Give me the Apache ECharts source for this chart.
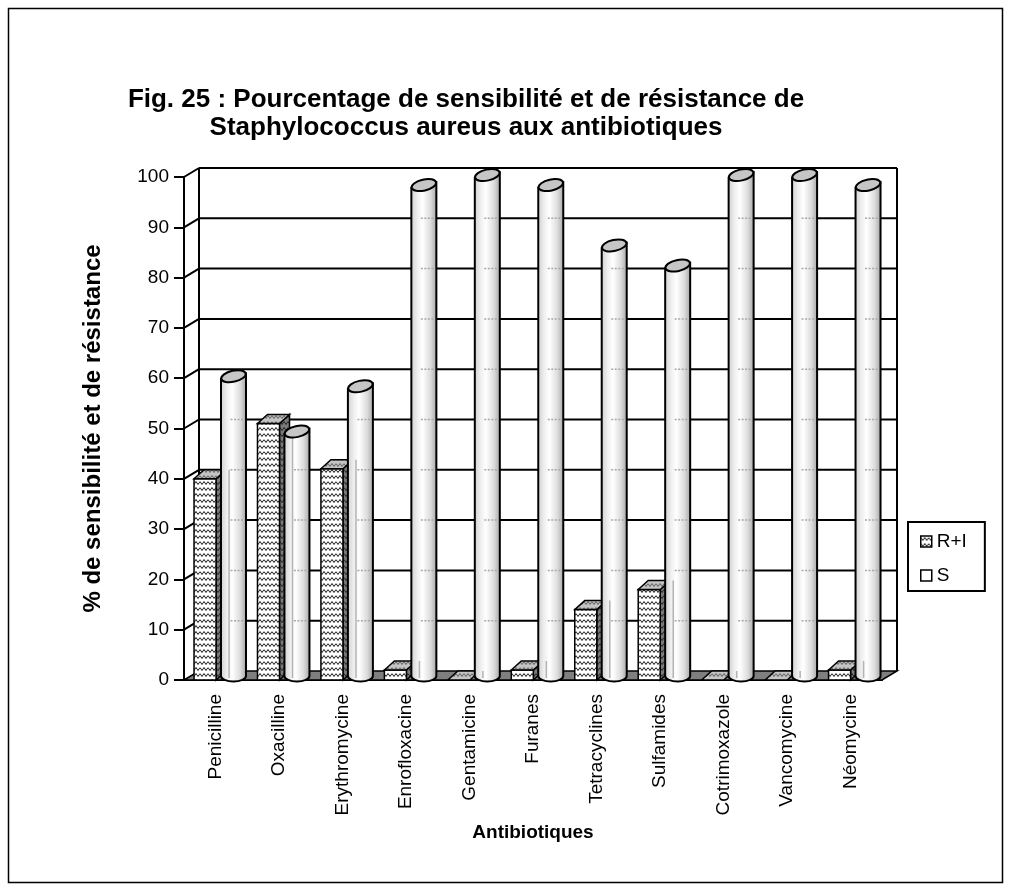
<!DOCTYPE html>
<html>
<head>
<meta charset="utf-8">
<title>Staphylococcus aureus – sensibilité et résistance</title>
<script src="https://cdn.jsdelivr.net/npm/echarts@6/dist/echarts.min.js"></script>
<style>
  html, body { margin: 0; padding: 0; background: #fff; }
  #chart { width: 1011px; height: 891px; }
</style>
</head>
<body>
<div id="chart"></div>
<script>
// ---- data ----
const categories = ['Penicilline', 'Oxacilline', 'Erythromycine', 'Enrofloxacine', 'Gentamicine',
  'Furanes', 'Tetracyclines', 'Sulfamides', 'Cotrimoxazole', 'Vancomycine', 'Néomycine'];
const riValues = [40, 51, 42, 2, 0, 2, 14, 18, 0, 0, 2];      // R+I
const sValues  = [60, 49, 58, 98, 100, 98, 86, 82, 100, 100, 98]; // S
const yTicks   = [0, 10, 20, 30, 40, 50, 60, 70, 80, 90, 100];

const titleText = 'Fig. 25 : Pourcentage de sensibilité et de résistance de\nStaphylococcus aureus aux antibiotiques';
const FONT = '"Liberation Sans", Arial, sans-serif';

// depth offsets of the pseudo-3D frame and of the columns
const WALL_DX = 15, WALL_DY = -9;
const BAR_DX = 10, BAR_DY = -9;

// zigzag hatch used by the R+I columns
function makeHatch(bg, fg) {
  const c = document.createElement('canvas');
  c.width = 8; c.height = 6;
  const ctx = c.getContext('2d');
  ctx.fillStyle = bg; ctx.fillRect(0, 0, 8, 6);
  ctx.strokeStyle = fg; ctx.lineWidth = 0.9;
  ctx.beginPath();
  ctx.moveTo(0, 1.5); ctx.lineTo(2, 4.5); ctx.lineTo(4, 1.5); ctx.lineTo(6, 4.5); ctx.lineTo(8, 1.5);
  ctx.stroke();
  return { image: c, repeat: 'repeat' };
}
const hatchFront = makeHatch('#ffffff', '#000000');
const hatchSide  = makeHatch('#7a7a7a', '#1a1a1a');
const hatchTop   = makeHatch('#c4c4c4', '#555555');

const cylFill = {
  type: 'linear', x: 0, y: 0, x2: 1, y2: 0,
  colorStops: [
    { offset: 0, color: '#cdcdcd' },
    { offset: 0.25, color: '#eeeeee' },
    { offset: 0.45, color: '#ffffff' },
    { offset: 0.75, color: '#dcdcdc' },
    { offset: 1, color: '#a0a0a0' }
  ]
};

// back wall, side wall gridlines and floor
function renderWall(params, api) {
  const cs = params.coordSys;
  const v = api.value(1);
  const y = api.coord([0, v])[1];
  const x0 = cs.x, x1 = cs.x + cs.width;
  const children = [];
  if (v === yTicks[0]) {
    const yTop = api.coord([0, yTicks[yTicks.length - 1]])[1];
    children.push({ type: 'polygon',
      shape: { points: [[x0, y], [x0 + WALL_DX, y + WALL_DY], [x1 + WALL_DX, y + WALL_DY], [x1, y]] },
      style: { fill: '#7f7f7f', stroke: '#000', lineWidth: 1.5 } });
    children.push({ type: 'line',
      shape: { x1: x0 + WALL_DX, y1: y + WALL_DY, x2: x0 + WALL_DX, y2: yTop + WALL_DY },
      style: { stroke: '#000', lineWidth: 2 } });
    children.push({ type: 'line',
      shape: { x1: x1 + WALL_DX, y1: y + WALL_DY, x2: x1 + WALL_DX, y2: yTop + WALL_DY },
      style: { stroke: '#000', lineWidth: 2 } });
  } else {
    children.push({ type: 'line',
      shape: { x1: x0, y1: y, x2: x0 + WALL_DX, y2: y + WALL_DY },
      style: { stroke: '#000', lineWidth: 2 } });
    children.push({ type: 'line',
      shape: { x1: x0 + WALL_DX, y1: y + WALL_DY, x2: x1 + WALL_DX, y2: y + WALL_DY },
      style: { stroke: '#000', lineWidth: 2 } });
  }
  return { type: 'group', children };
}

// geometry shared by the two column kinds
function boxGeom(api, i) {
  const band = api.size([1, 0])[0];
  const c0 = api.coord([i, 0]);
  return { left: c0[0] - band / 2 + band * 0.158, w: band * 0.347, band: band, c0: c0 };
}

// hatched box columns
function renderBox(params, api) {
  const i = api.value(0), v = api.value(1);
  const g = boxGeom(api, i);
  const left = g.left, w = g.w;
  const yb = g.c0[1], yt = api.coord([i, v])[1];
  const children = [];
  if (yb - yt > 0.5) {
    children.push({ type: 'polygon',
      shape: { points: [[left + w, yt], [left + w + BAR_DX, yt + BAR_DY], [left + w + BAR_DX, yb + BAR_DY], [left + w, yb]] },
      style: { fill: hatchSide, stroke: '#000', lineWidth: 1.5 } });
    children.push({ type: 'rect',
      shape: { x: left, y: yt, width: w, height: yb - yt },
      style: { fill: hatchFront, stroke: '#000', lineWidth: 1.5 } });
  }
  children.push({ type: 'polygon',
    shape: { points: [[left, yt], [left + BAR_DX, yt + BAR_DY], [left + w + BAR_DX, yt + BAR_DY], [left + w, yt]] },
    style: { fill: hatchTop, stroke: '#000', lineWidth: 1.5 } });
  return { type: 'group', children };
}

// shaded cylinders
function renderCylinder(params, api) {
  const i = api.value(0), v = api.value(1);
  const g = boxGeom(api, i);
  const band = g.band, c0 = g.c0;
  const cv = api.coord([i, v]);
  const left = c0[0] - band / 2 + band * 0.583;
  const w = band * 0.394;
  const rx = w / 2, ry = 5.5, cx = left + rx;
  const rot = 0.22;
  const yTop = cv[1] - 2, yBase = c0[1] - 4;
  const s = rx * Math.sin(rot);
  const path = 'M' + (cx - rx) + ' ' + (yTop + s) +
    ' L' + (cx - rx) + ' ' + yBase +
    ' A' + rx + ' ' + ry + ' 0 0 0 ' + (cx + rx) + ' ' + yBase +
    ' L' + (cx + rx) + ' ' + (yTop - s) + ' Z';
  const children = [{ type: 'path', shape: { pathData: path },
    style: { fill: cylFill, stroke: '#000', lineWidth: 2 } }];
  // back-wall gridlines showing through the column
  yTicks.forEach(function (t) {
    if (t === 0) return;
    const gy = api.coord([i, t])[1] + WALL_DY;
    if (gy > yTop + ry + 1 && gy < yBase - 2) {
      children.push({ type: 'line', shape: { x1: cx - 3, y1: gy, x2: cx + rx - 2, y2: gy },
        style: { stroke: '#a8a8a8', lineWidth: 1.5, lineDash: [2, 1.5] } });
    }
  });
  // rear edge of the neighbouring R+I box seen through the column
  const riTop = api.coord([i, riValues[i]])[1] + BAR_DY;
  const ex = g.left + g.w + BAR_DX + 3;
  if (ex > cx - rx + 2 && riTop < yBase - 1) {
    children.push({ type: 'line', shape: { x1: ex, y1: Math.max(riTop, yTop + ry), x2: ex, y2: yBase + 2 },
      style: { stroke: '#b4b4b4', lineWidth: 1.5 } });
  }
  children.push({ type: 'ellipse', shape: { cx: cx, cy: yTop, rx: rx, ry: ry },
    rotation: rot, originX: cx, originY: yTop,
    style: { fill: '#c6c6c6', stroke: '#000', lineWidth: 2 } });
  return { type: 'group', children };
}

const chart = echarts.init(document.getElementById('chart'), null, { renderer: 'canvas' });

chart.setOption({
  animation: false,
  backgroundColor: '#ffffff',
  textStyle: { fontFamily: FONT },
  graphic: [
    { type: 'rect', silent: true, z: -10,
      shape: { x: 8.5, y: 8.5, width: 994, height: 874 },
      style: { fill: 'none', stroke: '#000', lineWidth: 1.5 } },
    { type: 'text', x: 466, y: 114,
      style: { text: titleText, align: 'center', verticalAlign: 'middle',
        font: 'bold 26px ' + FONT, lineHeight: 28, fill: '#000' } }
  ],
  legend: {
    orient: 'vertical', left: 908, top: 522,
    selectedMode: false,
    itemWidth: 11, itemHeight: 11, itemGap: 15,
    borderColor: '#000', borderWidth: 2, padding: [10, 18, 6, 12],
    textStyle: { fontSize: 19, color: '#000', fontFamily: FONT },
    data: [
      { name: 'R+I', icon: 'rect', itemStyle: { color: hatchFront, borderColor: '#000', borderWidth: 1.5 } },
      { name: 'S', icon: 'rect', itemStyle: { color: '#fff', borderColor: '#000', borderWidth: 1.5 } }
    ]
  },
  grid: { left: 184, right: 129, top: 177, bottom: 211, containLabel: false },
  xAxis: {
    type: 'category', data: categories,
    name: 'Antibiotiques', nameLocation: 'middle', nameGap: 141,
    nameTextStyle: { fontSize: 19, fontWeight: 'bold', color: '#000', fontFamily: FONT },
    axisLine: { lineStyle: { color: '#000', width: 2 } },
    axisTick: { length: 12, lineStyle: { color: '#000', width: 2 } },
    axisLabel: { rotate: 90, fontSize: 19, margin: 14, color: '#000', fontFamily: FONT },
    splitLine: { show: false }
  },
  yAxis: {
    type: 'value', min: 0, max: 100, interval: 10,
    name: '% de sensibilité et de résistance', nameLocation: 'middle', nameGap: 79,
    nameTextStyle: { fontSize: 24, fontWeight: 'bold', color: '#000', fontFamily: FONT },
    axisLine: { show: true, lineStyle: { color: '#000', width: 2 } },
    axisTick: { show: true, length: 10, lineStyle: { color: '#000', width: 2 } },
    axisLabel: { fontSize: 19, margin: 15, color: '#000', fontFamily: FONT },
    splitLine: { show: false }
  },
  series: [
    { type: 'custom', name: 'frame', silent: true, z: 1,
      renderItem: renderWall,
      data: yTicks.map(function (v) { return [0, v]; }) },
    { type: 'custom', name: 'R+I', z: 2,
      itemStyle: { color: hatchFront },
      renderItem: renderBox,
      data: riValues.map(function (v, i) { return [i, v]; }) },
    { type: 'custom', name: 'S', z: 3,
      itemStyle: { color: '#fff' },
      renderItem: renderCylinder,
      data: sValues.map(function (v, i) { return [i, v]; }) }
  ]
});
</script>
</body>
</html>
